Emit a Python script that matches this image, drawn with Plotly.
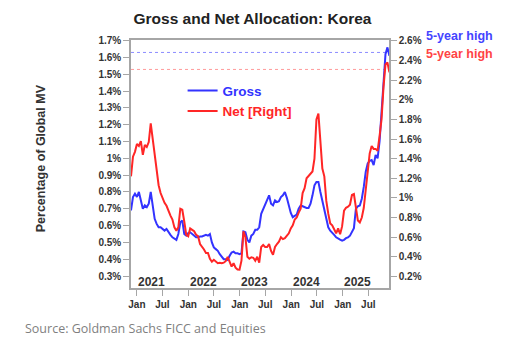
import pandas as pd
import plotly.graph_objects as go

# ---- data (percent of global MV), bi-weekly observations ----
start_date = "2020-11-20"
n_obs = 132
dates = pd.date_range(start_date, periods=n_obs, freq="14D")

gross = [
    0.69, 0.77, 0.79, 0.77, 0.80, 0.75, 0.70, 0.72, 0.71, 0.73,
    0.80, 0.72, 0.64, 0.61, 0.59, 0.59, 0.58, 0.57, 0.58, 0.56,
    0.545, 0.53, 0.52, 0.515, 0.55, 0.62, 0.63, 0.55, 0.54, 0.555,
    0.56, 0.55, 0.54, 0.53, 0.53, 0.535, 0.535, 0.54, 0.545, 0.54,
    0.55, 0.50, 0.47, 0.46, 0.45, 0.43, 0.415, 0.40, 0.40, 0.395,
    0.42, 0.44, 0.445, 0.435, 0.435, 0.43, 0.435, 0.565, 0.56, 0.515,
    0.50, 0.54, 0.55, 0.575, 0.575, 0.59, 0.67, 0.70, 0.72, 0.75,
    0.78, 0.73, 0.72, 0.75, 0.74, 0.745, 0.77, 0.78, 0.80, 0.765,
    0.72, 0.675, 0.65, 0.66, 0.665, 0.70, 0.72, 0.715, 0.71, 0.705,
    0.705, 0.73, 0.78, 0.84, 0.86, 0.86, 0.80, 0.75, 0.69, 0.64,
    0.59, 0.57, 0.56, 0.545, 0.53, 0.525, 0.516, 0.51, 0.515, 0.525,
    0.53, 0.54, 0.565, 0.585, 0.70, 0.715, 0.72, 0.76, 0.83, 0.92,
    0.97, 0.985, 0.99, 0.96, 1.02, 1.00, 1.10, 1.27, 1.45, 1.62,
    1.66, 1.61,
]

net = [
    1.22, 1.42, 1.47, 1.55, 1.53, 1.58, 1.44, 1.54, 1.52, 1.57,
    1.76, 1.60, 1.43, 1.25, 1.13, 1.05, 0.99, 0.95, 0.92, 0.86,
    0.82, 0.78, 0.70, 0.665, 0.70, 0.89, 0.88, 0.76, 0.625, 0.61,
    0.69, 0.675, 0.66, 0.625, 0.61, 0.53, 0.505, 0.475, 0.44, 0.44,
    0.38, 0.35, 0.37, 0.355, 0.335, 0.34, 0.335, 0.34, 0.355, 0.40,
    0.34, 0.30, 0.335, 0.29, 0.27, 0.268, 0.36, 0.66, 0.60, 0.40,
    0.38, 0.395, 0.39, 0.36, 0.40, 0.34, 0.50, 0.52, 0.50, 0.50,
    0.53, 0.46, 0.42, 0.50, 0.53, 0.555, 0.60, 0.58, 0.59, 0.61,
    0.64, 0.69, 0.72, 0.78, 0.80, 0.85, 0.89, 1.05, 1.10, 1.20,
    1.22, 1.24, 1.27, 1.40, 1.80, 1.86, 1.58, 1.30, 1.22, 0.97,
    0.84, 0.74, 0.72, 0.67, 0.64, 0.69, 0.63, 0.71, 0.87, 0.90,
    0.91, 0.93, 1.03, 1.04, 0.90, 0.77, 0.75, 0.80, 0.90, 1.08,
    1.29, 1.455, 1.53, 1.50, 1.50, 1.48, 1.63, 1.80, 2.13, 2.36,
    2.38, 2.28,
]

gross_5y_high = 1.63
net_5y_high = 2.31

left_ticks = [0.3, 0.4, 0.5, 0.6, 0.7, 0.8, 0.9, 1.0, 1.1, 1.2, 1.3, 1.4, 1.5, 1.6, 1.7]
left_labels = ["0.3%", "0.4%", "0.5%", "0.6%", "0.7%", "0.8%", "0.9%", "1%",
               "1.1%", "1.2%", "1.3%", "1.4%", "1.5%", "1.6%", "1.7%"]
right_ticks = [0.2, 0.4, 0.6, 0.8, 1.0, 1.2, 1.4, 1.6, 1.8, 2.0, 2.2, 2.4, 2.6]
right_labels = ["0.2%", "0.4%", "0.6%", "0.8%", "1%", "1.2%", "1.4%", "1.6%",
                "1.8%", "2%", "2.2%", "2.4%", "2.6%"]
month_ticks = ["2021-01-01", "2021-07-01", "2022-01-01", "2022-07-01", "2023-01-01",
               "2023-07-01", "2024-01-01", "2024-07-01", "2025-01-01", "2025-07-01"]
month_labels = ["Jan", "Jul"] * 5
years = ["2021", "2022", "2023", "2024", "2025"]

BLUE = "#3333ff"
RED = "#ff2626"
FONT = "Liberation Sans, Arial, sans-serif"

fig = go.Figure()
fig.add_trace(go.Scatter(x=dates, y=gross, mode="lines", name="<b>Gross</b>",
                         line=dict(color=BLUE, width=2), yaxis="y"))
fig.add_trace(go.Scatter(x=dates, y=net, mode="lines",
                         name="<span style='color:%s'><b>Net [Right]</b></span>" % RED,
                         line=dict(color=RED, width=2), yaxis="y2"))

fig.add_shape(type="line", xref="paper", x0=0, x1=1, yref="y", y0=gross_5y_high,
              y1=gross_5y_high, line=dict(color="#8c8cff", width=1, dash="dot"),
              layer="below")
fig.add_shape(type="line", xref="paper", x0=0, x1=1, yref="y2", y0=net_5y_high,
              y1=net_5y_high, line=dict(color="#ff9a9a", width=1, dash="dot"),
              layer="below")

annotations = []
for yr in years:
    annotations.append(dict(x=yr + "-04-15", y=0, xref="x", yref="paper", text="<b>%s</b>" % yr,
                            showarrow=False, xanchor="center", yanchor="bottom", yshift=-3,
                            font=dict(family=FONT, size=12, color="#333333")))
annotations.append(dict(x=1.135, y=1.016, xref="paper", yref="paper", text="<b>5-year high</b>",
                        showarrow=False, xanchor="left", yanchor="middle",
                        font=dict(family=FONT, size=12.5, color="#4444ff")))
annotations.append(dict(x=1.135, y=0.944, xref="paper", yref="paper", text="<b>5-year high</b>",
                        showarrow=False, xanchor="left", yanchor="middle",
                        font=dict(family=FONT, size=12.5, color="#ff4444")))
annotations.append(dict(x=-0.351, y=0.525, xref="paper", yref="paper",
                        text="<b>Percentage of Global MV</b>", textangle=-90,
                        showarrow=False, xanchor="center", yanchor="middle",
                        font=dict(family=FONT, size=12.5, color="#333333")))
annotations.append(dict(x=-0.417, y=-0.162, xref="paper", yref="paper",
                        text="Source: Goldman Sachs FICC and Equities",
                        showarrow=False, xanchor="left", yanchor="middle",
                        font=dict(family="Open Sans, sans-serif", size=12.5, color="#7f7f7f")))

axis_line = "#a6a6a6"
tickfont = dict(family=FONT, size=10, color="#333333", weight="bold")

fig.update_layout(
    width=512, height=348,
    margin=dict(l=131, r=123, t=40, b=60),
    paper_bgcolor="white", plot_bgcolor="white",
    title=dict(text="<b>Gross and Net Allocation: Korea</b>", x=252.5 / 512, xanchor="center",
               y=1 - 18.5 / 348, yanchor="middle",
               font=dict(family=FONT, size=15.5, color="#222222")),
    showlegend=True,
    legend=dict(x=0.2, y=0.858, xanchor="left", yanchor="top", bgcolor="rgba(0,0,0,0)",
                font=dict(family=FONT, size=13.5, color=BLUE), tracegroupgap=0,
                itemwidth=30),
    xaxis=dict(range=["2020-11-20", "2025-11-25"], tickvals=month_ticks, ticktext=month_labels,
               tickmode="array", showgrid=False, zeroline=False, showline=True,
               linecolor=axis_line, linewidth=1.5, mirror=True, ticks="outside", ticklen=6,
               tickcolor=axis_line, tickfont=tickfont),
    yaxis=dict(range=[0.2287, 1.704], tickvals=left_ticks, ticktext=left_labels,
               tickmode="array", showgrid=False, zeroline=False, showline=True,
               linecolor=axis_line, linewidth=1.5, mirror=True, ticks="outside", ticklen=6,
               tickcolor=axis_line, tickfont=tickfont),
    yaxis2=dict(range=[0.082, 2.61], tickvals=right_ticks, ticktext=right_labels,
                tickmode="array", overlaying="y", side="right", showgrid=False,
                zeroline=False, showline=True, linecolor=axis_line, linewidth=1.5,
                ticks="outside", ticklen=6, tickcolor=axis_line, tickfont=tickfont),
    annotations=annotations,
)

fig.write_html("out.html")
